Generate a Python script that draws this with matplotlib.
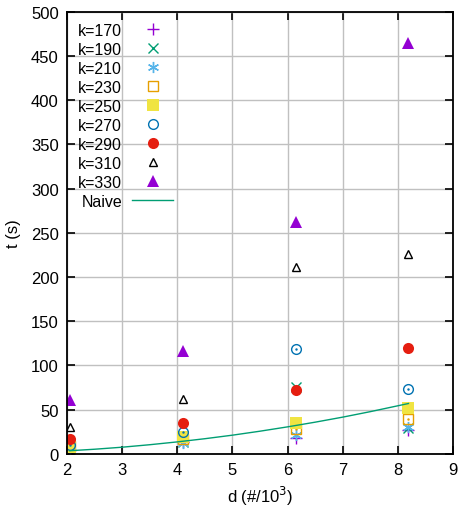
import matplotlib
matplotlib.use("Agg")
import matplotlib.pyplot as plt

# data
d = [2.048, 4.096, 6.144, 8.192]
k_labels = ["k=170", "k=190", "k=210", "k=230", "k=250", "k=270", "k=290", "k=310", "k=330"]
t_k170 = [4, 13, 18, 27]
t_k190 = [5, 14, 76, 29]
t_k210 = [5, 12, 21, 31]
t_k230 = [9, 17, 28, 40]
t_k250 = [8, 19, 35, 52]
t_k270 = [10, 25, 119, 73]
t_k290 = [17, 35, 72, 120]
t_k310 = [31, 62, 211, 226]
t_k330 = [61, 116, 262, 465]
series = [t_k170, t_k190, t_k210, t_k230, t_k250, t_k270, t_k290, t_k310, t_k330]

naive_d = [2.048, 2.5, 3, 3.5, 4, 4.5, 5, 5.5, 6, 6.5, 7, 7.5, 8.192]
naive_t = [3.6, 5.3, 7.6, 10.4, 13.6, 17.2, 21.2, 25.7, 30.6, 35.9, 41.6, 47.8, 57.0]

# gnuplot-like styles
styles = [
    dict(marker="+", color="#9400d3", mfc="none", ms=8, mew=1.0),
    dict(marker="x", color="#009e73", mfc="none", ms=7, mew=1.0),
    dict(marker=(6, 2, 0), color="#56b4e9", mfc="none", ms=8, mew=1.0),
    dict(marker="s", color="#e69f00", mfc="none", ms=7, mew=1.0),
    dict(marker="s", color="#f0e442", mfc="#f0e442", ms=8, mew=0),
    dict(marker="o", color="#0072b2", mfc="none", ms=7, mew=1.0),
    dict(marker="o", color="#e51e10", mfc="#e51e10", ms=8, mew=0),
    dict(marker="^", color="black", mfc="none", ms=6, mew=1.0),
    dict(marker="^", color="#9400d3", mfc="#9400d3", ms=8, mew=0),
]

plt.rcParams["font.family"] = ["Liberation Sans", "DejaVu Sans"]
fig = plt.figure(figsize=(4.59, 5.10), dpi=100)
ax = fig.add_axes([0.146, 0.108, 0.841, 0.867])

for lab, vals, st in zip(k_labels, series, styles):
    ax.plot(d, vals, linestyle="none", label=lab, **st)
    # small centre dot for the open square / circle (gnuplot style)
    if st["marker"] in ("s", "o") and st["mfc"] == "none":
        ax.plot(d, vals, linestyle="none", marker=".", ms=1.5, color=st["color"])

ax.plot(naive_d, naive_t, color="#009e73", lw=1.0, label="Naive")

ax.set_xlim(2, 9)
ax.set_ylim(0, 500)
ax.set_xticks(range(2, 10))
ax.set_yticks(range(0, 501, 50))
ax.grid(True, color="#c0c0c0", lw=1.0)
ax.set_axisbelow(True)
ax.tick_params(direction="in", top=True, right=True, length=6, width=1.2,
               labelsize=12, pad=6)
for s in ax.spines.values():
    s.set_linewidth(1.3)

ax.set_xlabel("d (#/10$^3$)", fontsize=12, labelpad=5)
ax.set_ylabel("t (s)", fontsize=12, labelpad=7)

leg = ax.legend(loc="upper left", frameon=False, markerfirst=False,
                fontsize=11.5, handlelength=2.6, handletextpad=0.6,
                labelspacing=0.25, borderaxespad=0.3, numpoints=1)

fig.savefig("out.png", dpi=100)
